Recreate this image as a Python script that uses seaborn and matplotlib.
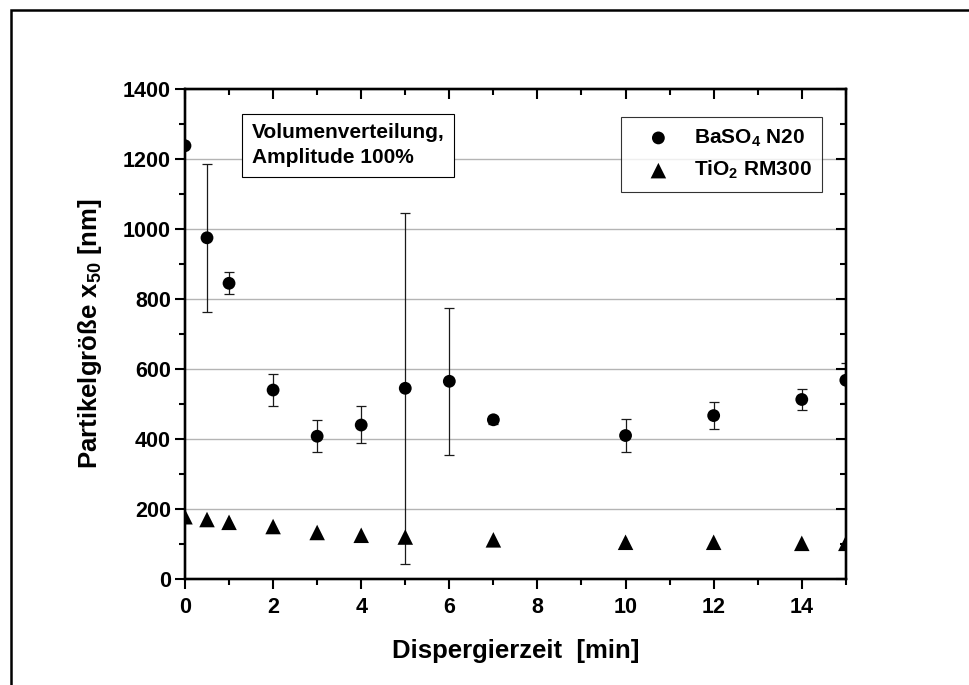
import numpy as np
import matplotlib
matplotlib.use('Agg')
import matplotlib.pyplot as plt
import seaborn as sns
from matplotlib.patches import Rectangle
from matplotlib.ticker import MultipleLocator

sns.set_style('white')
plt.rcParams['font.family'] = ['Liberation Sans', 'DejaVu Sans']
plt.rcParams['font.weight'] = 'bold'
plt.rcParams['text.color'] = 'black'
plt.rcParams['axes.labelcolor'] = 'black'
plt.rcParams['xtick.color'] = 'black'
plt.rcParams['ytick.color'] = 'black'
plt.rcParams['mathtext.fontset'] = 'custom'
plt.rcParams['mathtext.rm'] = 'Liberation Sans:bold'
plt.rcParams['mathtext.bf'] = 'Liberation Sans:bold'
plt.rcParams['mathtext.it'] = 'Liberation Sans:bold'
plt.rcParams['mathtext.default'] = 'rm'

# Daten
zeit_ba = [0, 0.5, 1, 2, 3, 4, 5, 6, 7, 10, 12, 14, 15]
x50_ba = [1238, 975, 845, 540, 408, 440, 545, 565, 455, 410, 467, 513, 568]
err_ba_oben = [1238, 1185, 878, 585, 455, 494, 1047, 775, 466, 457, 505, 543, 617]
err_ba_unten = [1238, 762, 815, 493, 362, 388, 43, 355, 444, 364, 430, 482, 503]

zeit_ti = [0, 0.5, 1, 2, 3, 4, 5, 7, 10, 12, 14, 15]
x50_ti = [178, 170, 162, 150, 133, 125, 120, 112, 105, 105, 102, 102]
err_ti = [12, 14, 14, 16, 14, 14, 12, 14, 14, 12, 16, 12]

fig = plt.figure(figsize=(9.7, 6.85), dpi=100)
ax = fig.add_axes([0.1907, 0.1547, 0.6813, 0.7153])

# Fehlerbalken
yerr_ba = [np.array(x50_ba) - np.array(err_ba_unten), np.array(err_ba_oben) - np.array(x50_ba)]
ax.errorbar(zeit_ba, x50_ba, yerr=yerr_ba, fmt='none', ecolor='#1a1a1a',
            elinewidth=0.9, capsize=3.5, capthick=0.9, zorder=2)
ax.errorbar(zeit_ti, x50_ti, yerr=err_ti, fmt='none', ecolor='#1a1a1a',
            elinewidth=0.9, capsize=0, zorder=2)

sns.scatterplot(x=zeit_ba, y=x50_ba, marker='o', s=85, color='black',
                edgecolor='none', ax=ax, zorder=3, label='BaSO$_4$ N20')
sns.scatterplot(x=zeit_ti, y=x50_ti, marker='^', s=125, color='black',
                edgecolor='none', ax=ax, zorder=3, label='TiO$_2$ RM300')

ax.set_xlim(0, 15)
ax.set_ylim(0, 1400)
ax.xaxis.set_major_locator(MultipleLocator(2))
ax.xaxis.set_minor_locator(MultipleLocator(1))
ax.yaxis.set_major_locator(MultipleLocator(200))
ax.yaxis.set_minor_locator(MultipleLocator(100))
ax.grid(axis='y', which='major', color='#b4b4b4', linewidth=1.0)
ax.set_axisbelow(True)

for s in ax.spines.values():
    s.set_linewidth(1.6)
    s.set_color('black')

ax.tick_params(which='both', direction='out', width=1.5, color='black',
               bottom=True, left=True, top=False, right=False)
ax.tick_params(which='major', length=7)
ax.tick_params(which='minor', length=4)
ax.tick_params(axis='x', labelsize=15.5, pad=6)
ax.tick_params(axis='y', labelsize=15.5, pad=3)
for lbl in ax.get_xticklabels() + ax.get_yticklabels():
    lbl.set_fontweight('bold')

# Ticks oben und rechts nach innen
ax_top = ax.twiny()
ax_top.set_xlim(ax.get_xlim())
ax_top.xaxis.set_major_locator(MultipleLocator(2))
ax_top.xaxis.set_minor_locator(MultipleLocator(1))
ax_top.tick_params(which='both', direction='in', width=1.5, labeltop=False)
ax_top.tick_params(which='major', length=7)
ax_top.tick_params(which='minor', length=4)
ax_right = ax.twinx()
ax_right.set_ylim(ax.get_ylim())
ax_right.yaxis.set_major_locator(MultipleLocator(200))
ax_right.yaxis.set_minor_locator(MultipleLocator(100))
ax_right.tick_params(which='both', direction='in', width=1.5, labelright=False)
ax_right.tick_params(which='major', length=7)
ax_right.tick_params(which='minor', length=4)
for a in (ax_top, ax_right):
    for s in a.spines.values():
        s.set_linewidth(1.6)
        s.set_color('black')
    a.grid(False)

ax.set_xlabel('Dispergierzeit  [min]', fontsize=18.5, fontweight='bold', labelpad=15)
ax.set_ylabel('Partikelgröße x$_{50}$ [nm]', fontsize=18.5, fontweight='bold', labelpad=14)

leg = ax.legend(loc='upper left', bbox_to_anchor=(0.6596, 0.943), frameon=True,
                fancybox=False, edgecolor='black', fontsize=15, handlelength=2.6,
                handletextpad=0.4, borderpad=0.5, labelspacing=0.5, borderaxespad=0)
leg.get_frame().set_linewidth(0.8)
for t in leg.get_texts():
    t.set_fontweight('bold')

ax.text(0.101, 0.93, 'Volumenverteilung,\nAmplitude 100%', transform=ax.transAxes,
        ha='left', va='top', fontsize=15, fontweight='bold', linespacing=1.4,
        bbox=dict(boxstyle='square,pad=0.45', facecolor='white', edgecolor='black', linewidth=0.8))

# Rahmen um die Abbildung
fig.patches.append(Rectangle((11 / 970, -0.05), 1.2, 1 - 10 / 685 + 0.05,
                             transform=fig.transFigure, fill=False,
                             edgecolor='black', linewidth=1.8))

plt.savefig('out.png', dpi=100)
plt.close()
